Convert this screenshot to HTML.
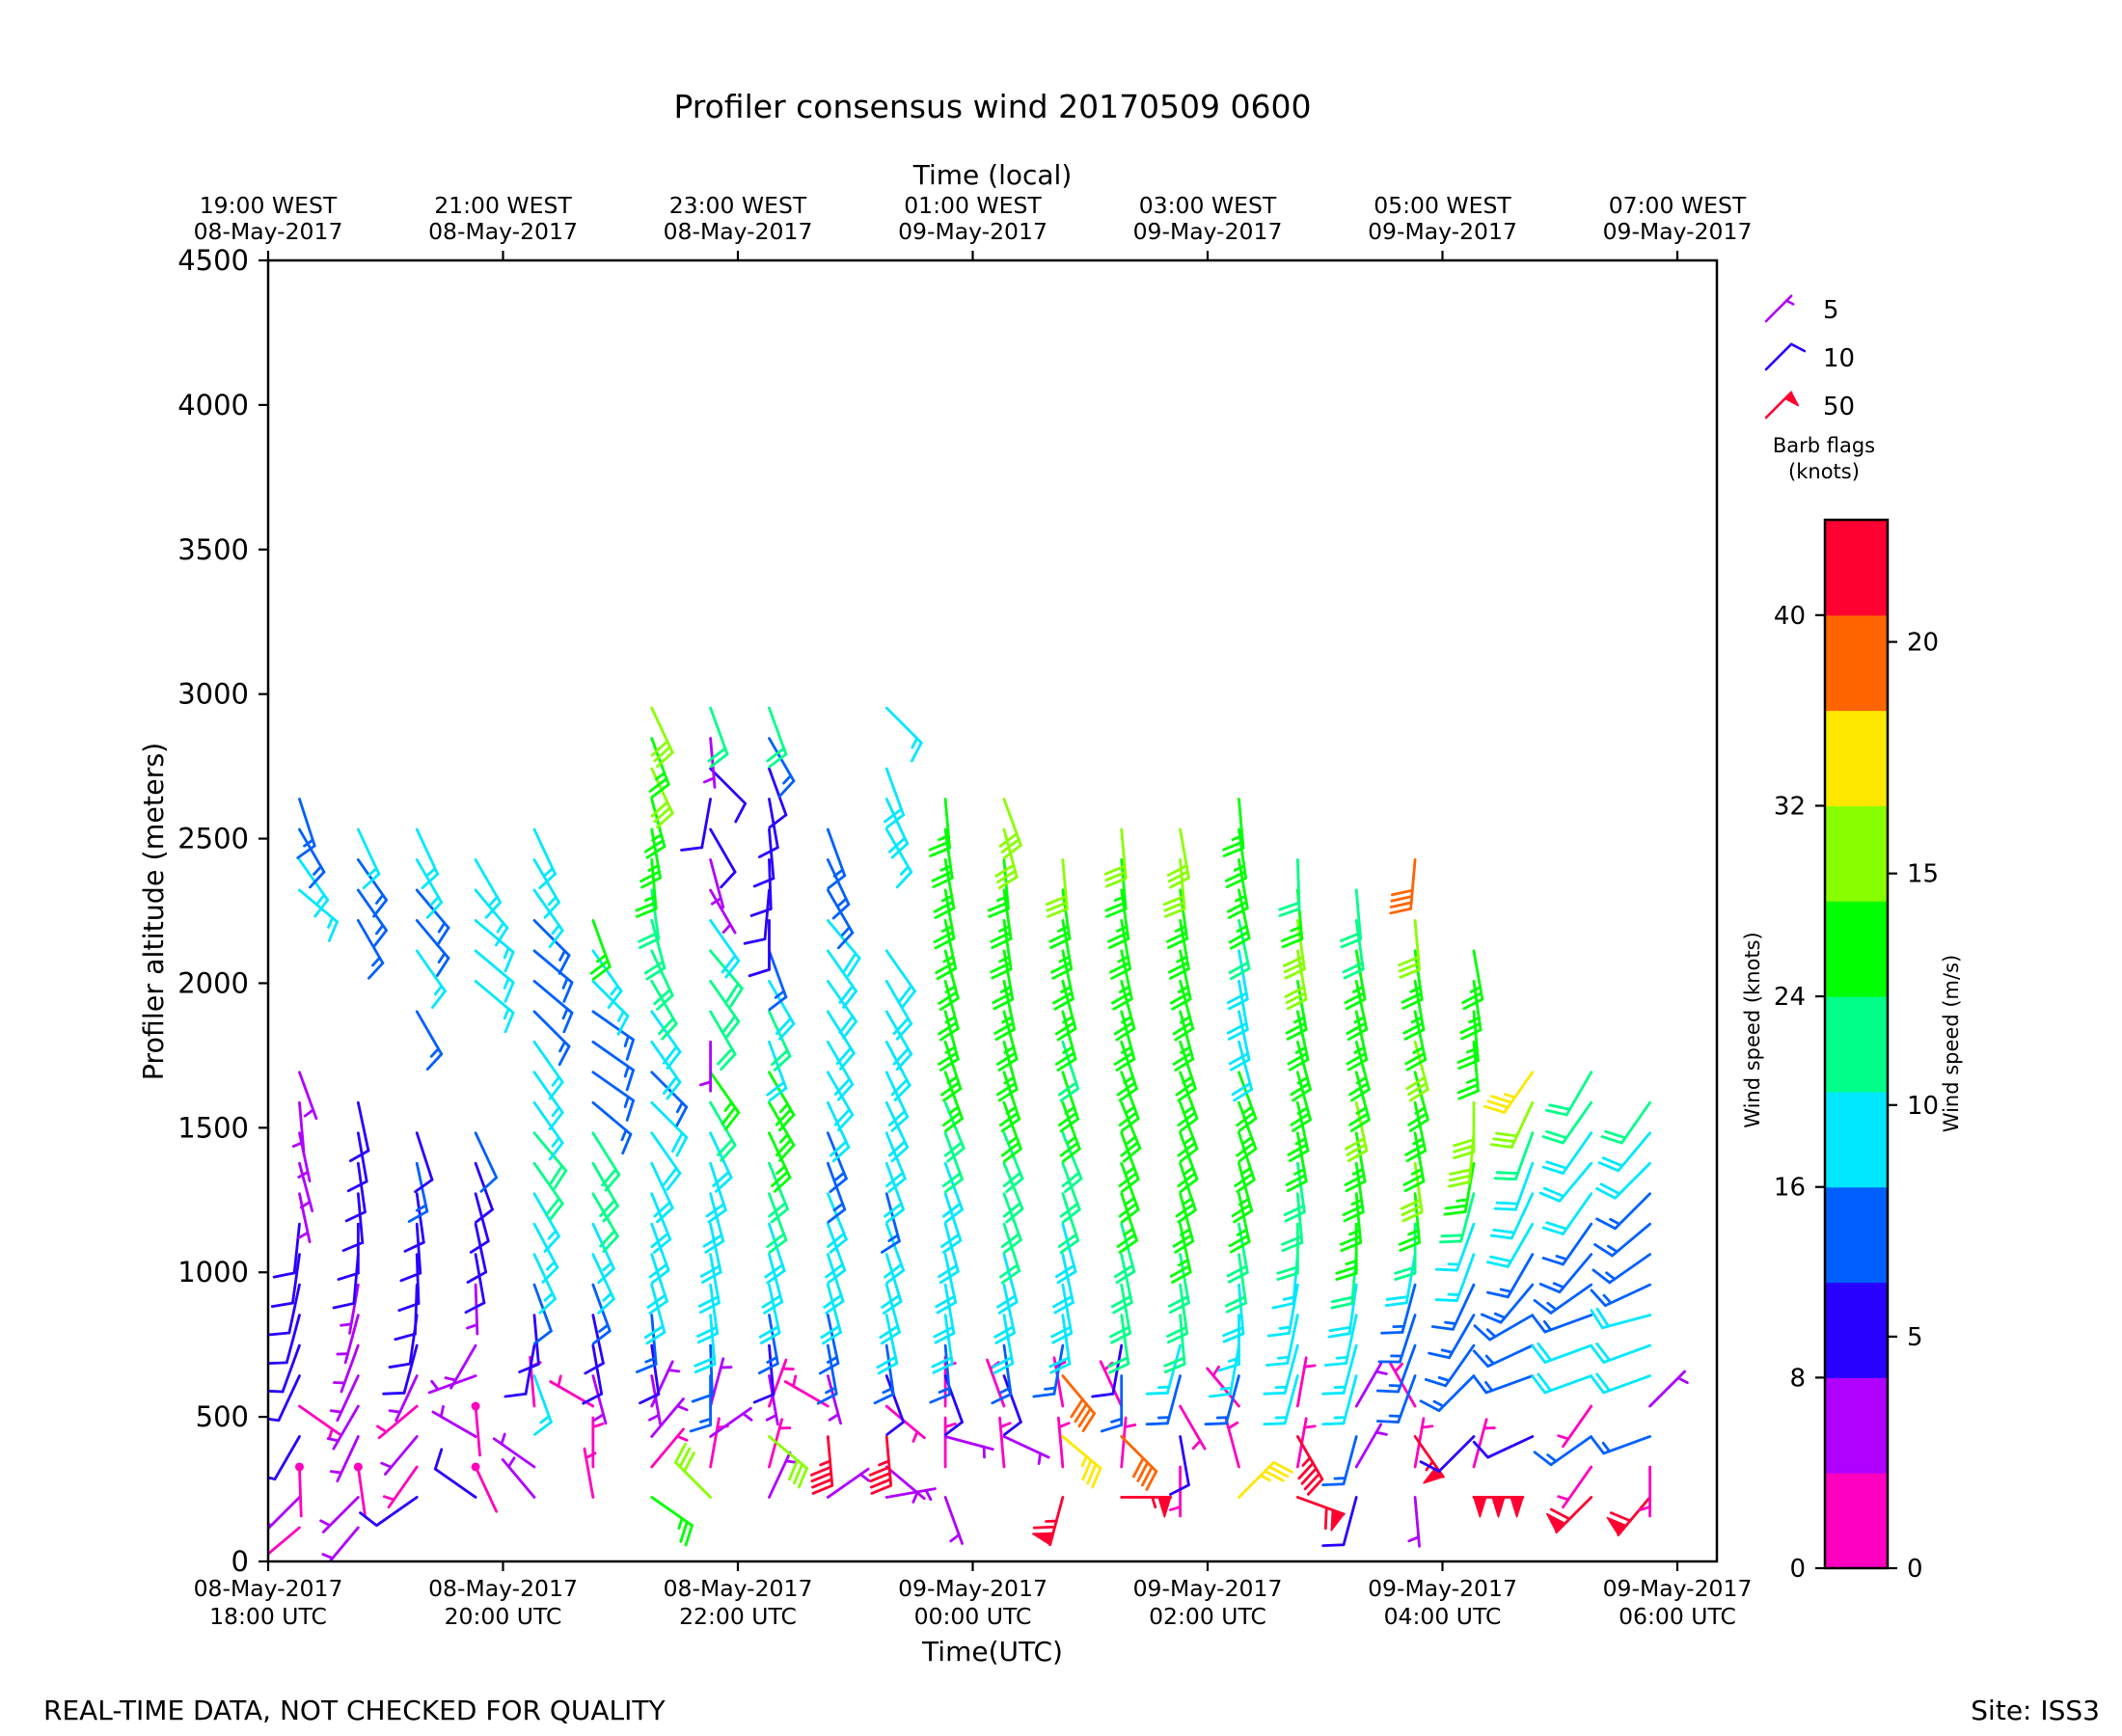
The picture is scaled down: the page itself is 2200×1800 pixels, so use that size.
<!DOCTYPE html>
<html>
<head>
<meta charset="utf-8">
<style>
  html, body { margin:0; padding:0; background:#fff; }
  svg { display:block; }
  text { font-family: "DejaVu Sans", "Liberation Sans", sans-serif; fill:#000; }
</style>
</head>
<body>
<svg id="chart" width="2200" height="1800" viewBox="0 0 2200 1800" xmlns="http://www.w3.org/2000/svg">
  <rect x="0" y="0" width="2200" height="1800" fill="#fff"/>
  <text x="1029" y="122" font-size="33" text-anchor="middle">Profiler consensus wind 20170509 0600</text>
  <text x="1029" y="191" font-size="28" text-anchor="middle">Time (local)</text>
  <text x="1029" y="1722" font-size="28" text-anchor="middle">Time(UTC)</text>
  <text x="0" y="0" font-size="28.5" text-anchor="middle" transform="translate(169,945) rotate(-90)">Profiler altitude (meters)</text>
  <text x="45" y="1783" font-size="28">REAL-TIME DATA, NOT CHECKED FOR QUALITY</text>
  <text x="2177" y="1783" font-size="28" text-anchor="end">Site: ISS3</text>
  <text x="1891" y="469" font-size="21" text-anchor="middle">Barb flags</text>
  <text x="1891" y="496" font-size="21" text-anchor="middle">(knots)</text>
  <text x="0" y="0" font-size="21" text-anchor="middle" transform="translate(1824,1068) rotate(-90)">Wind speed (knots)</text>
  <text x="0" y="0" font-size="21" text-anchor="middle" transform="translate(2030,1082) rotate(-90)">Wind speed (m/s)</text>
  <g id="barbs"></g>
  <g id="axes"></g>
  <g id="colorbar"></g>
  <g id="legend"></g>
</svg>
<script>
const N = null;
// ---- data ----
const colTimes = ["18:16","18:46","19:16","19:46","20:16","20:46","21:16","21:46","22:16","22:46","23:16","23:46",
  "00:16","00:46","01:16","01:46","02:16","02:46","03:16","03:46","04:16","04:46","05:16","05:46"];
const gateHeights = [117,222,327,432,537,642,747,852,957,1062,1167,1272,1377,1482,1587,1692,1797,1902,2007,2112,2217,2322,2427,2532,2637,2742,2847,2952];
const speeds = [
 [3,6,2,8,3,9,9,9,9,9,9,6,6,6,5,6,N,N,N,N,N,17,17,14,14],
 [5,6,2,6,6,6,6,7,7,9,10,10,10,10,10,N,N,N,N,N,14,14,14,17],
 [N,8,3,6,3,6,9,9,9,9,9,10,13,10,N,N,N,13,N,17,14,14,17,17],
 [N,8,2,6,2,4,4,N,6,10,10,10,10,12,N,N,N,N,17,17,17,17,17],
 [N,6,4,N,3,17,9,9,12,17,17,17,21,21,17,17,17,14,14,14,14,17,17,17],
 [N,3,3,N,3,6,9,10,13,17,17,21,21,21,14,14,14,14,17,17,25],
 [N,26,3,4,4,7,10,13,18,18,18,18,18,18,18,13,18,18,22,22,22,22,25,25,25,30,26,30],
 [N,30,3,4,4,13,12,18,18,18,18,18,18,18,22,25,6,22,22,22,18,7,7,10,9,9,6,22],
 [N,6,3,30,3,6,9,13,18,18,18,22,22,25,25,25,18,22,18,13,9,9,9,10,10,9,13,22],
 [N,6,N,44,3,7,13,13,18,18,18,18,13,13,18,18,18,18,18,18,18,13,13,14],
 [N,4,4,45,3,9,13,18,18,18,18,13,18,18,18,18,18,18,18,18,N,N,N,17,18,18,N,17,18],
 [N,6,3,7,3,9,13,18,18,18,18,18,18,22,22,25,25,25,25,25,25,25,25,25,25],
 [N,N,3,7,3,9,13,18,18,18,22,22,22,22,25,25,25,25,25,25,25,25,25,30,30],
 [N,65,3,35,3,38,13,18,18,18,18,22,22,22,25,25,22,25,25,25,25,25,30],
 [N,55,3,38,3,13,9,22,22,22,22,25,25,25,25,25,25,25,25,25,25,25,25,28],
 [N,N,3,9,3,13,17,22,22,22,25,25,25,25,25,25,25,25,25,25,25,25,30,30],
 [N,35,3,N,3,13,17,17,18,22,22,25,25,25,25,25,18,18,18,18,22,25,25,25,25],
 [N,60,3,45,3,17,17,17,17,17,22,22,22,25,25,25,25,25,25,30,30,25,22],
 [N,9,4,13,4,17,17,17,18,22,25,25,25,25,30,25,25,25,25,25,22,22],
 [N,6,3,55,3,13,13,13,13,18,22,25,30,25,25,25,30,25,25,25,30,N,38],
 [N,150,3,9,N,13,13,13,13,17,17,22,25,30,30,N,25,25,25,25],
 [N,N,N,9,N,13,13,13,13,13,18,18,18,22,30,35],
 [N,60,3,13,3,18,18,13,13,13,13,18,18,18,22,22],
 [N,60,3,13,4,18,18,18,13,13,13,13,18,18,22]
];
const dirs = [
 [230,225,178,210,125,205,200,195,192,188,186,168,165,168,175,160,N,N,N,N,N,130,145,150,162],
 [220,225,172,205,210,205,200,195,190,185,180,175,172,170,168,N,N,N,N,N,150,145,145,155],
 [N,235,215,220,230,205,195,188,182,178,176,172,168,162,N,N,N,150,N,145,140,140,150,155],
 [N,305,155,300,175,250,210,N,178,170,168,165,160,155,N,N,N,N,130,130,130,140,150],
 [N,320,305,N,355,160,190,175,160,155,152,150,145,140,145,145,145,135,130,130,135,145,150,155],
 [N,350,0,N,300,165,170,168,160,155,155,150,150,148,130,125,125,125,135,145,160],
 [N,125,40,40,25,170,172,175,165,162,160,158,155,145,135,135,145,145,150,155,165,172,175,170,165,155,160,155],
 [N,315,10,55,15,180,178,175,172,170,168,165,162,155,150,145,180,150,145,140,145,150,165,150,190,135,175,160],
 [N,25,15,130,20,170,175,170,168,165,162,160,158,155,150,150,160,155,150,160,180,185,178,175,170,160,150,160],
 [N,55,N,175,300,165,170,168,165,162,160,158,160,158,155,150,150,148,145,145,140,150,155,160],
 [N,80,130,175,130,160,172,168,165,163,160,165,160,158,155,155,152,150,150,145,N,N,N,150,155,160,N,135,150],
 [N,160,0,105,0,160,175,172,170,168,165,162,160,160,158,160,162,165,165,165,168,170,170,172,175],
 [N,N,355,115,340,160,172,170,168,165,162,160,158,158,160,162,165,165,168,170,172,172,175,165,160],
 [N,195,355,130,350,140,190,172,170,168,165,162,160,158,160,162,162,165,165,168,170,172,175],
 [N,90,5,135,335,180,190,172,170,168,165,162,160,160,158,160,162,165,165,168,170,172,175,175],
 [N,N,180,170,150,195,195,175,172,170,168,165,162,160,160,160,162,165,165,168,170,172,175,170],
 [N,45,345,N,320,195,190,180,175,172,170,168,165,162,160,160,165,168,170,170,168,168,170,172,175],
 [N,110,10,150,10,195,195,192,190,185,180,175,172,170,168,165,165,168,170,170,172,175,178],
 [N,195,30,195,30,195,195,192,188,185,180,175,172,170,168,165,165,168,168,170,172,175],
 [N,175,10,145,330,200,200,198,195,190,180,175,172,170,168,165,165,168,170,172,175,N,185],
 [N,90,15,225,N,225,215,210,205,200,200,195,190,185,180,N,175,175,172,170],
 [N,N,N,245,N,250,245,240,220,210,210,205,200,200,205,215],
 [N,225,215,235,215,250,250,250,235,220,215,215,220,215,215,210],
 [N,220,180,250,45,250,250,255,245,235,230,225,225,220,215]
];
const cbBounds = [0,4,8,12,16,20,24,28,32,36,40,44];
const cbColors = ["#ff00c0","#b000ff","#2800ff","#0060ff","#00e8ff","#00ff88","#00ff00","#88ff00","#ffe800","#ff6400","#ff0030"];
const knotTicks = [0,8,16,24,32,40];
const msTicks = [0,5,10,15,20];
const yTicks = [0,500,1000,1500,2000,2500,3000,3500,4000,4500];
const utcTickHours = [18,20,22,24,26,28,30];
const utcDateLabels = ["08-May-2017","08-May-2017","08-May-2017","09-May-2017","09-May-2017","09-May-2017","09-May-2017"];
const utcTimeLabels = ["18:00 UTC","20:00 UTC","22:00 UTC","00:00 UTC","02:00 UTC","04:00 UTC","06:00 UTC"];
const localTimeLabels = ["19:00 WEST","21:00 WEST","23:00 WEST","01:00 WEST","03:00 WEST","05:00 WEST","07:00 WEST"];
const localDateLabels = ["08-May-2017","08-May-2017","08-May-2017","09-May-2017","09-May-2017","09-May-2017","09-May-2017"];
const legendSpeeds = [5,10,50];

// ---- scales ----
const PL=278, PR=1780, PT=270, PB=1619;
const CBL=1892, CBR=1957, CBT=539, CBB=1626;
function xScale(h){ return PL + (h-18)*121.75; }
function yScale(m){ return PB - m*(PB-PT)/4500; }
function cbScale(k){ return CBB - k*(CBB-CBT)/44; }
function parseT(s){ const [h,m]=s.split(":").map(Number); let t=h+m/60; if(t<12) t+=24; return t; }
function colorFor(s){ let i=Math.floor(s/4); if(i<0)i=0; if(i>10)i=10; return cbColors[i]; }
const NS="http://www.w3.org/2000/svg";
function mk(tag, attrs, parent){ const e=document.createElementNS(NS,tag); for(const k in attrs) e.setAttribute(k,attrs[k]); parent.appendChild(e); return e; }

function drawBarb(parent, bx, by, spd, dir, L){
  const g = mk("g", {}, parent);
  
  
  const col = colorFor(spd);
  const r = Math.round(spd/5)*5;
  const a = dir*Math.PI/180;
  const ux=Math.sin(a), uy=-Math.cos(a), px=-uy, py=ux;
  const pt=(t,q)=>[bx+t*ux+q*px, by+t*uy+q*py];
  const sw = L>45 ? 2.8 : 2.6;
  const tip = pt(L,0);
  mk("line",{x1:bx,y1:by,x2:tip[0],y2:tip[1],stroke:col,"stroke-width":sw,"stroke-linecap":"round"},g);
  const fh=0.4*L, fw=0.25*L, sp=0.125*L;
  let flags=Math.floor(r/50), rem=r%50, full=Math.floor(rem/10), half=(rem%10)>=5;
  let off=0;
  for(let i=0;i<flags;i++){
    const p1=pt(L-off,0), p2=pt(L-off-fw/2,fh), p3=pt(L-off-fw,0);
    mk("polygon",{points:`${p1} ${p2} ${p3}`,fill:col,stroke:col,"stroke-width":1.5,"stroke-linejoin":"round"},g);
    off+=fw+sp;
  }
  for(let i=0;i<full;i++){
    const p1=pt(L-off,0), p2=pt(L-off+fw/2,fh);
    mk("line",{x1:p1[0],y1:p1[1],x2:p2[0],y2:p2[1],stroke:col,"stroke-width":sw,"stroke-linecap":"round"},g);
    off+=sp;
  }
  if(half){
    if(flags===0 && full===0) off+=1.5*sp;
    const p1=pt(L-off,0), p2=pt(L-off+fw/4,fh/2);
    mk("line",{x1:p1[0],y1:p1[1],x2:p2[0],y2:p2[1],stroke:col,"stroke-width":sw,"stroke-linecap":"round"},g);
  }
  if(r===0){
    mk("circle",{cx:bx,cy:by,r:4.5,fill:col},g);
  }
}

// ---- barbs ----
const barbG=document.getElementById("barbs");
const clip=mk("clipPath",{id:"plotclip"},barbG);
mk("rect",{x:PL,y:PT,width:PR-PL,height:PB-PT},clip);
const barbInner=mk("g",{"clip-path":"url(#plotclip)"},barbG);


colTimes.forEach((ts,c)=>{
  const x=xScale(parseT(ts));
  const sp=speeds[c], dr=dirs[c];
  for(let k=0;k<gateHeights.length;k++){
    const s=sp[k], d=dr[k];
    if(s==null || d==null) continue;
    drawBarb(barbInner, x, yScale(gateHeights[k]), s, d, 51);
  }
});

// ---- axes ----
const ax=document.getElementById("axes");
const frame=mk("rect",{x:PL,y:PT,width:PR-PL,height:PB-PT,fill:"none",stroke:"#000","stroke-width":2.5},ax);


yTicks.forEach(v=>{
  const y=yScale(v);
  const t=mk("line",{x1:PL-10,y1:y,x2:PL,y2:y,stroke:"#000","stroke-width":2.2},ax);
  
  
  const l=mk("text",{x:PL-20,y:y+10,"font-size":29,"text-anchor":"end"},ax);
  l.textContent=v;
  
  
});
utcTickHours.forEach((h,i)=>{
  const x=xScale(h);
  const tb=mk("line",{x1:x,y1:PB,x2:x,y2:PB+10,stroke:"#000","stroke-width":2.2},ax);
  
  
  const tt=mk("line",{x1:x,y1:PT-10,x2:x,y2:PT,stroke:"#000","stroke-width":2.2},ax);
  
  
  const l1=mk("text",{x:x,y:1655,"font-size":23.5,"text-anchor":"middle"},ax);
  l1.textContent=utcDateLabels[i];
  
  
  const l2=mk("text",{x:x,y:1684,"font-size":23.5,"text-anchor":"middle"},ax);
  l2.textContent=utcTimeLabels[i];
  
  
  const l3=mk("text",{x:x,y:221,"font-size":23.5,"text-anchor":"middle"},ax);
  l3.textContent=localTimeLabels[i];
  
  
  const l4=mk("text",{x:x,y:248,"font-size":23.5,"text-anchor":"middle"},ax);
  l4.textContent=localDateLabels[i];
  
  
});

// ---- colorbar ----
const cb=document.getElementById("colorbar");
cbColors.forEach((c,i)=>{
  const y1=cbScale(cbBounds[i+1]), y0=cbScale(cbBounds[i]);
  const r=mk("rect",{x:CBL,y:y1,width:CBR-CBL,height:y0-y1+0.5,fill:c},cb);
  
  
});
const cbf=mk("rect",{x:CBL,y:CBT,width:CBR-CBL,height:CBB-CBT,fill:"none",stroke:"#000","stroke-width":2.5},cb);


knotTicks.forEach(v=>{
  const y=cbScale(v);
  const t=mk("line",{x1:CBL-10,y1:y,x2:CBL,y2:y,stroke:"#000","stroke-width":2.2},cb);
  
  
  const l=mk("text",{x:CBL-20,y:y+9,"font-size":26,"text-anchor":"end"},cb);
  l.textContent=v;
  
  
});
msTicks.forEach(v=>{
  const y=cbScale(v*1.943844);
  const t=mk("line",{x1:CBR,y1:y,x2:CBR+10,y2:y,stroke:"#000","stroke-width":2.2},cb);
  
  
  const l=mk("text",{x:CBR+20,y:y+9,"font-size":26,"text-anchor":"start"},cb);
  l.textContent=v;
  
  
});

// ---- barb legend ----
const lg=document.getElementById("legend");
legendSpeeds.forEach((s,i)=>{
  const by=333+i*50;
  drawBarb(lg, 1831, by, s, 45, 37);
  const l=mk("text",{x:1890,y:by-3,"font-size":26,"text-anchor":"start"},lg);
  l.textContent=s;
  
  
});
</script>
</body>
</html>
